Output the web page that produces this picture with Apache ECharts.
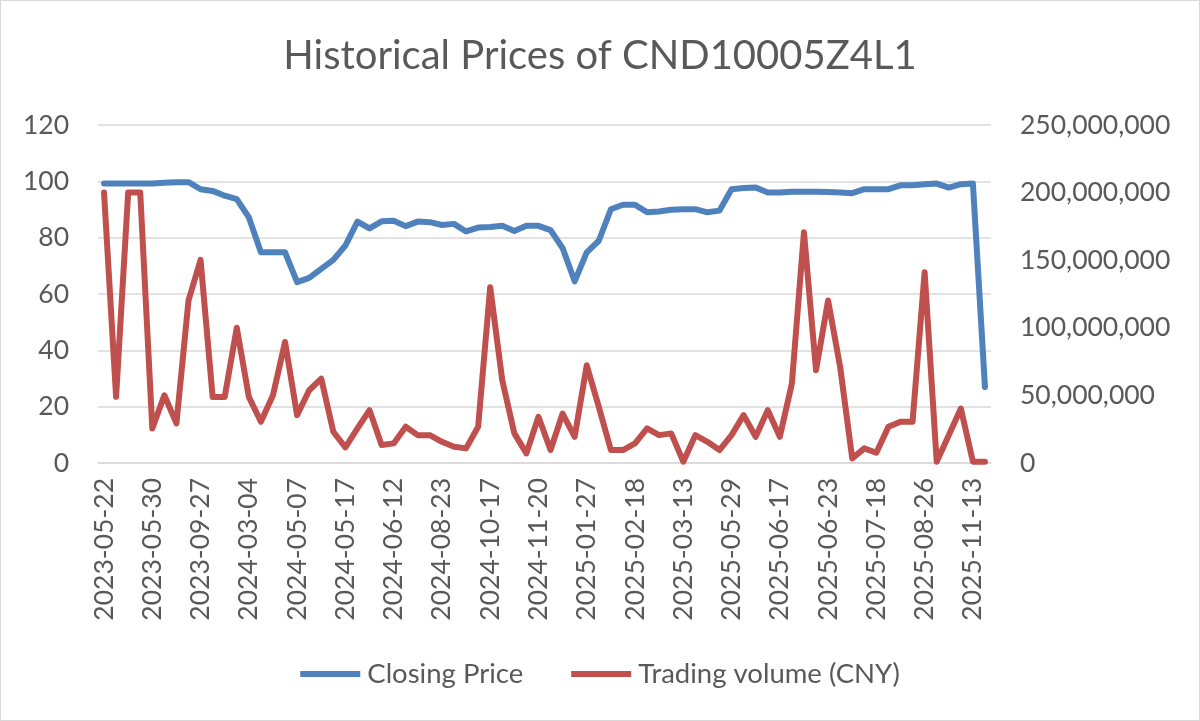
<!DOCTYPE html>
<html>
<head>
<meta charset="utf-8">
<script src="https://cdn.jsdelivr.net/npm/echarts@6/dist/echarts.min.js"></script>
<style>
  html, body { margin: 0; padding: 0; background: #fff; }
  #chart { width: 1198px; height: 719px; border: 1px solid #d9d9d9; }
</style>
</head>
<body>
<div id="chart"></div>
<script>
// dates shown on the axis, one every 4 points
const labelDates = [
  '2023-05-22', '2023-05-30', '2023-09-27', '2024-03-04', '2024-05-07',
  '2024-05-17', '2024-06-12', '2024-08-23', '2024-10-17', '2024-11-20',
  '2025-01-27', '2025-02-18', '2025-03-13', '2025-05-29', '2025-06-17',
  '2025-06-23', '2025-07-18', '2025-08-26', '2025-11-13'
];

const closingPrice = [
  99.2, 99.2, 99.2, 99.2, 99.2, 99.5, 99.7, 99.7, 97.2, 96.6,
  94.9, 93.7, 87.2, 74.8, 74.8, 74.8, 64.2, 65.7, 68.9, 72.1,
  77.2, 85.7, 83.3, 85.8, 86.0, 84.1, 85.7, 85.5, 84.5, 84.9,
  82.2, 83.6, 83.8, 84.2, 82.4, 84.2, 84.2, 82.7, 76.3, 64.5,
  74.8, 78.9, 90.1, 91.7, 91.7, 89.0, 89.3, 89.9, 90.1, 90.1,
  89.0, 89.6, 97.2, 97.6, 97.8, 96.0, 96.0, 96.3, 96.3, 96.3,
  96.2, 96.0, 95.8, 97.2, 97.2, 97.2, 98.6, 98.6, 99.0, 99.2,
  97.8, 99.0, 99.2, 27.0
];

const tradingVolume = [
  200.0, 49.0, 200.0, 200.0, 25.6, 50.1, 29.3, 120.2, 150.2, 48.9,
  48.9, 100.0, 48.9, 30.5, 50.1, 89.5, 35.4, 53.8, 62.4, 23.1,
  11.6, 25.6, 39.1, 13.3, 14.5, 26.8, 20.6, 20.6, 15.7, 12.0,
  10.8, 26.8, 130.0, 61.2, 21.9, 7.1, 34.2, 9.6, 36.6, 19.4,
  72.3, 41.5, 9.6, 9.6, 14.5, 25.6, 20.6, 21.9, 1.0, 20.6,
  15.7, 9.6, 20.6, 35.4, 19.4, 39.1, 19.4, 58.8, 170.6, 68.6,
  120.2, 71.0, 3.4, 10.8, 7.6, 26.8, 30.5, 30.5, 141.1, 1.0,
  20.6, 40.3, 1.0, 1.0
].map(v => Math.round(v * 1e6)); // millions -> CNY

const categories = closingPrice.map((_, i) => (i % 4 === 0 ? labelDates[i / 4] : ''));

const textColor = '#595959';
const fontFamily = 'Lato, "Open Sans", sans-serif';

const chart = echarts.init(document.getElementById('chart'));
chart.setOption({
  animation: false,
  textStyle: { fontFamily: fontFamily, color: textColor },
  title: {
    text: 'Historical Prices of CND10005Z4L1',
    left: 'center',
    top: 30,
    textStyle: { fontSize: 40, fontWeight: 'normal', color: textColor, fontFamily: fontFamily }
  },
  legend: {
    data: ['Closing Price', 'Trading volume (CNY)'],
    top: 654,
    left: 'center',
    icon: 'rect',
    itemWidth: 60,
    itemHeight: 6,
    itemGap: 48,
    textStyle: { fontSize: 27.5, color: textColor, fontFamily: fontFamily, padding: [0, 0, 0, 2] }
  },
  grid: {
    left: 97,
    right: 208,
    top: 124,
    bottom: 257,
    containLabel: false
  },
  xAxis: {
    type: 'category',
    data: categories,
    boundaryGap: true,
    axisLine: { lineStyle: { color: '#d9d9d9', width: 1.5 } },
    axisTick: { show: false },
    axisLabel: {
      interval: 3,
      rotate: 90,
      margin: 15,
      fontSize: 26.5,
      color: textColor,
      fontFamily: fontFamily
    }
  },
  yAxis: [
    {
      type: 'value',
      min: 0,
      max: 120,
      interval: 20,
      axisLine: { show: false },
      axisTick: { show: false },
      splitLine: { lineStyle: { color: '#d9d9d9', width: 1.5 } },
      axisLabel: { margin: 29, fontSize: 26.5, color: textColor, fontFamily: fontFamily }
    },
    {
      type: 'value',
      min: 0,
      max: 250000000,
      interval: 50000000,
      axisLine: { show: false },
      axisTick: { show: false },
      splitLine: { show: false },
      axisLabel: {
        margin: 29,
        fontSize: 26.5,
        color: textColor,
        fontFamily: fontFamily,
        formatter: v => v.toLocaleString('en-US')
      }
    }
  ],
  series: [
    {
      name: 'Closing Price',
      type: 'line',
      yAxisIndex: 0,
      data: closingPrice,
      symbol: 'none',
      lineStyle: { color: '#4f81bd', width: 6, cap: 'round', join: 'round' },
      itemStyle: { color: '#4f81bd' }
    },
    {
      name: 'Trading volume (CNY)',
      type: 'line',
      yAxisIndex: 1,
      data: tradingVolume,
      symbol: 'none',
      lineStyle: { color: '#c0504d', width: 6, cap: 'round', join: 'round' },
      itemStyle: { color: '#c0504d' }
    }
  ]
});
</script>
</body>
</html>
